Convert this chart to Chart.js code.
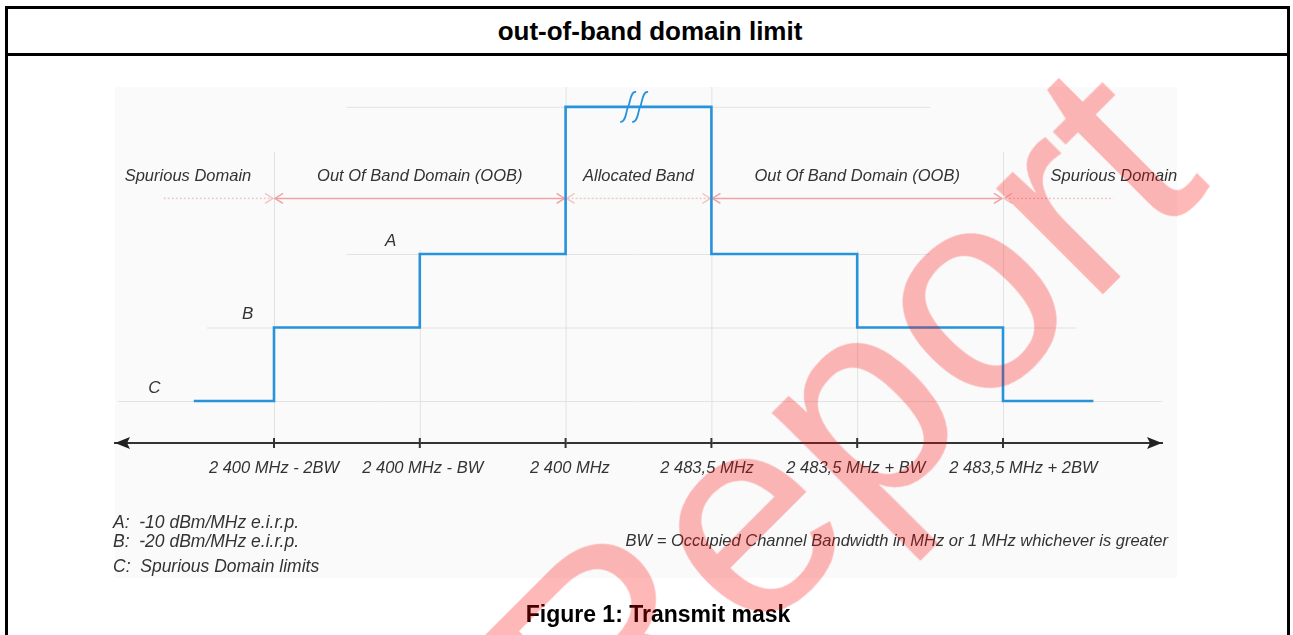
<!DOCTYPE html>
<html><head><meta charset="utf-8">
<script src="https://cdn.jsdelivr.net/npm/chart.js@4"></script>
<style>
html,body{margin:0;padding:0;background:#fff;width:1293px;height:635px;overflow:hidden;font-family:"Liberation Sans",Arial,sans-serif;}
#frame{position:absolute;left:5px;top:6px;width:1279px;height:700px;border:3px solid #000;}
#hdrline{position:absolute;left:5px;top:53px;width:1285px;height:3px;background:#000;}
#title{position:absolute;left:0;width:1300px;top:17px;text-align:center;font-weight:bold;font-size:26px;line-height:28px;color:#000;}
#fig{position:absolute;left:115px;top:87px;width:1062px;height:491px;background:#fafafa;}
#c{position:absolute;left:0;top:0;}
.note{position:absolute;font-style:italic;font-size:17.5px;line-height:20px;color:#333;white-space:nowrap;}
.bw{font-size:16.5px;}
#caption{position:absolute;left:0;width:1316px;top:601px;text-align:center;font-weight:bold;font-size:23px;line-height:26px;color:#000;}
#wm{position:absolute;left:840px;top:418px;font-size:285px;line-height:1;color:rgba(255,0,0,0.28);transform:translate(-50%,-50%) rotate(-45deg);white-space:nowrap;pointer-events:none;font-family:"Liberation Sans",Arial,sans-serif;}
</style></head>
<body>
<div id="frame"></div>
<div id="hdrline"></div>
<div id="title">out-of-band domain limit</div>
<div id="fig"></div>
<canvas id="c" width="1177" height="635"></canvas>
<div class="note" style="left:113px;top:512px;">A:&nbsp; -10 dBm/MHz e.i.r.p.</div>
<div class="note" style="left:113px;top:531px;">B:&nbsp; -20 dBm/MHz e.i.r.p.</div>
<div class="note" style="left:113px;top:556px;">C:&nbsp; Spurious Domain limits</div>
<div class="note bw" style="right:125px;top:530px;">BW = Occupied Channel Bandwidth in MHz or 1 MHz whichever is greater</div>
<div id="caption">Figure 1: Transmit mask</div>
<div id="wm">Report</div>
<script>
// ---- data ----
const xTickLabels = ['2 400 MHz - 2BW','2 400 MHz - BW','2 400 MHz','2 483,5 MHz','2 483,5 MHz + BW','2 483,5 MHz + 2BW'];
const maskX = [-0.55, 0, 1, 2, 3, 4, 5, 5.62];
const maskLevel = [-30, -20, -10, 10, -10, -20, -30, -30];
const levelNames = ['C','B','A'];
const levelValues = [-30, -20, -10];
const domainNames = ['Spurious Domain','Out Of Band Domain (OOB)','Allocated Band','Out Of Band Domain (OOB)','Spurious Domain'];
const domainFrom = [-0.77, 0, 2, 3, 5];
const domainTo = [0, 2, 3, 5, 5.77];

// ---- layout tweaks (placement only) ----
const levelLabelX = [-0.82, -0.18, 0.80];
const domainLabelX = [-0.59, 1, 2.5, 4, 5.76];
const domainSolid = [false, true, false, true, false];
const tickLabelNudge = [0, 0.02, 0.03, -0.03, -0.01, 0.14];

const FONT = '"Liberation Sans", Arial, sans-serif';
Chart.defaults.font.family = FONT;

const deco = {
  id: 'deco',
  beforeDatasetsDraw(chart) {
    const ctx = chart.ctx, xs = chart.scales.x, ys = chart.scales.y;
    const px = v => xs.getPixelForValue(v), py = v => ys.getPixelForValue(v);
    ctx.save();
    ctx.strokeStyle = '#e2e2e2';
    ctx.lineWidth = 1;
    const hl = [[-30, -1.07, 6.09], [-20, -0.46, 5.5], [-10, 0.5, 4.5], [10, 0.5, 4.5]];
    hl.forEach(([v, a, b]) => { ctx.beginPath(); ctx.moveTo(px(a), py(v)+0.5); ctx.lineTo(px(b), py(v)+0.5); ctx.stroke(); });
    const vTop = [3.9, -9.5, 12.7, 12.7, -9.5, 3.9];
    vTop.forEach((t, i) => { ctx.beginPath(); ctx.moveTo(px(i)+0.5, py(t)); ctx.lineTo(px(i)+0.5, chart.chartArea.bottom); ctx.stroke(); });
    const ay = py(-2.38) + 0.5;
    domainNames.forEach((n, i) => {
      const a = px(domainFrom[i]), b = px(domainTo[i]);
      ctx.strokeStyle = domainSolid[i] ? '#f0a3a3' : '#f3c6c6';
      ctx.lineWidth = 1.5;
      ctx.setLineDash(domainSolid[i] ? [] : [2, 2]);
      ctx.beginPath(); ctx.moveTo(a + 2, ay); ctx.lineTo(b - 2, ay); ctx.stroke();
      ctx.setLineDash([]);
      const head = (x, dir) => { ctx.beginPath(); ctx.moveTo(x + dir * 9, ay - 5); ctx.lineTo(x + 1*dir, ay); ctx.lineTo(x + dir * 9, ay + 5); ctx.stroke(); };
      if (Number.isInteger(domainFrom[i])) head(a, 1);
      if (Number.isInteger(domainTo[i])) head(b, -1);
    });
    ctx.restore();
  },
  afterDatasetsDraw(chart) {
    const ctx = chart.ctx, xs = chart.scales.x, ys = chart.scales.y;
    const px = v => xs.getPixelForValue(v), py = v => ys.getPixelForValue(v);
    const ca = chart.chartArea;
    ctx.save();
    ctx.fillStyle = '#222'; ctx.strokeStyle = '#333';
    const by = ca.bottom;
    ctx.beginPath(); ctx.moveTo(ca.left, by); ctx.lineTo(ca.left + 15, by - 6); ctx.lineTo(ca.left + 12, by); ctx.lineTo(ca.left + 15, by + 6); ctx.closePath(); ctx.fill();
    ctx.beginPath(); ctx.moveTo(ca.right, by); ctx.lineTo(ca.right - 15, by - 6); ctx.lineTo(ca.right - 12, by); ctx.lineTo(ca.right - 15, by + 6); ctx.closePath(); ctx.fill();
    ctx.lineWidth = 2;
    xTickLabels.forEach((_, i) => { ctx.beginPath(); ctx.moveTo(px(i), by - 5); ctx.lineTo(px(i), by + 5); ctx.stroke(); });
    ctx.strokeStyle = '#2793dc'; ctx.lineWidth = 1.8;
    const bx = px(2.47), bY = py(10);
    [-6, 6].forEach(d => {
      const x = bx + d;
      ctx.beginPath(); ctx.moveTo(x - 8, bY + 15);
      ctx.bezierCurveTo(x - 2, bY + 16, x - 2, bY + 3, x, bY);
      ctx.bezierCurveTo(x + 2, bY - 3, x + 2, bY - 16, x + 8, bY - 15);
      ctx.stroke();
    });
    ctx.fillStyle = '#333';
    ctx.font = 'italic 16.5px ' + FONT;
    ctx.textAlign = 'center'; ctx.textBaseline = 'middle';
    domainNames.forEach((n, i) => ctx.fillText(n, px(domainLabelX[i]), py(0.6)));
    ctx.font = 'italic 17px ' + FONT;
    levelNames.forEach((n, i) => ctx.fillText(n, px(levelLabelX[i]), py(levelValues[i]) - 13));
    ctx.restore();
  }
};

new Chart(document.getElementById('c'), {
  type: 'line',
  data: {
    datasets: [{
      data: maskX.map((x, i) => ({ x, y: maskLevel[i] })),
      stepped: true,
      borderColor: '#2793dc',
      borderWidth: 2.6,
      pointRadius: 0,
      fill: false
    }]
  },
  options: {
    responsive: false,
    animation: false,
    layout: { padding: { left: 115, right: 15, top: 87, bottom: 0 } },
    plugins: { legend: { display: false }, tooltip: { enabled: false } },
    scales: {
      x: {
        type: 'linear', min: -1.0905, max: 6.0905,
        afterBuildTicks: s => { s.ticks = xTickLabels.map((_, i) => ({ value: i + tickLabelNudge[i] })); },
        afterFit: s => { s.height = 192; },
        ticks: {
          autoSkip: false, maxRotation: 0, padding: 16,
          color: '#333', font: { size: 16.5, style: 'italic' },
          callback: (v, i) => xTickLabels[i] ?? ''
        },
        grid: { display: false, drawOnChartArea: false, drawTicks: false },
        border: { display: true, color: '#333', width: 2 }
      },
      y: { type: 'linear', min: -35.7, max: 12.7, display: false }
    }
  },
  plugins: [deco]
});
</script>
</body></html>
